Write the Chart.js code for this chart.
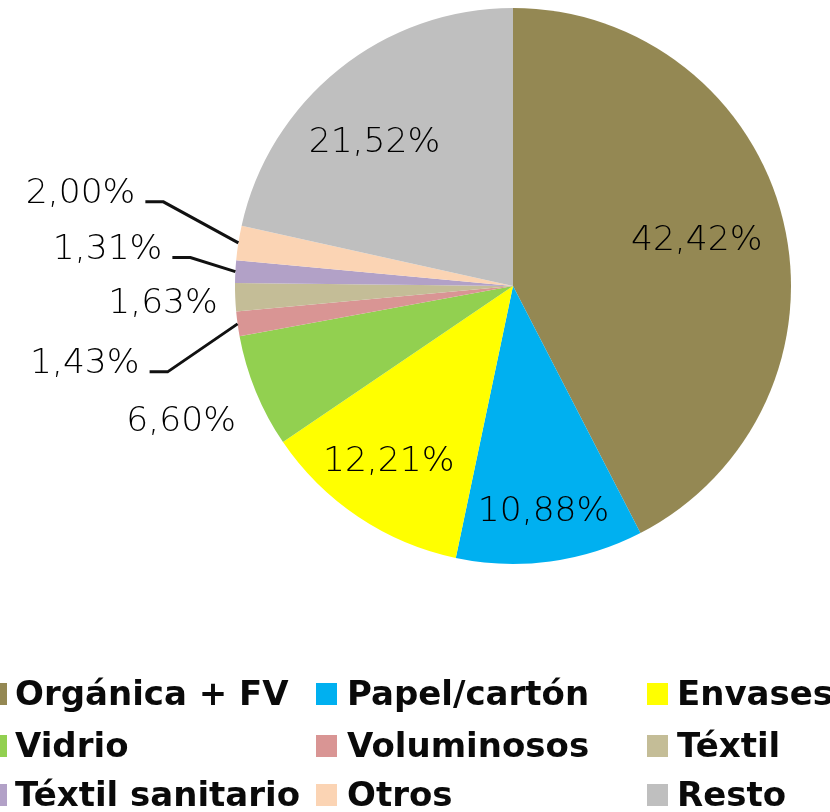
<!DOCTYPE html>
<html>
<head>
<meta charset="utf-8">
<script src="https://cdn.jsdelivr.net/npm/chart.js@4.4.1/dist/chart.umd.min.js"></script>
<style>
  html, body { margin: 0; padding: 0; background: #fff; overflow: hidden; }
  #wrap { position: relative; width: 830px; height: 812px; }
  #chartBox { position: absolute; left: 0; top: 0; width: 830px; height: 620px; }
  #legend { position: absolute; left: 0; top: 0; width: 830px; height: 812px; }
  .sw { position: absolute; width: 21px; height: 22px; }
  .txt { position: absolute; white-space: nowrap; font: 700 34px "DejaVu Sans", sans-serif; color: #0a0a0a; line-height: 40px; }
</style>
</head>
<body>
<div id="wrap">
  <div id="chartBox"><canvas id="chart"></canvas></div>
  <div id="legend"></div>
</div>
<script>
// categories, values and colours
const CATEGORIES = ['Orgánica + FV', 'Papel/cartón', 'Envases', 'Vidrio', 'Voluminosos', 'Téxtil', 'Téxtil sanitario', 'Otros', 'Resto'];
const VALUES = [42.42, 10.88, 12.21, 6.60, 1.43, 1.63, 1.31, 2.00, 21.52];
const COLORS = ['#948853', '#00b0f0', '#ffff00', '#92d050', '#d99594', '#c4bd97', '#b2a1c7', '#fbd4b4', '#bfbfbf'];

// where each value label goes: inside at a fraction of radius, outside, or with a leader line
const LABEL_PLACE = [
  { r: 0.68 },
  { r: 0.82 },
  { r: 0.77, dx: -5, dy: -2 },
  { r: 1.29 },
  { leader: [-70, 48] },
  { r: 1.26, dy: 4 },
  { leader: [-45, -14] },
  { leader: [-75, -41] },
  { r: 0.71, dx: -15, dy: 11 },
];

const fmt = v => v.toFixed(2).replace('.', ',') + '%';

const labelPlugin = {
  id: 'valueLabels',
  afterDatasetsDraw(chart) {
    const ctx = chart.ctx;
    const meta = chart.getDatasetMeta(0);
    ctx.save();
    ctx.font = '200 34.5px "DejaVu Sans", sans-serif';
    ctx.fillStyle = '#000';
    ctx.strokeStyle = '#111';
    ctx.lineWidth = 3;
    meta.data.forEach((arc, i) => {
      const p = arc.getProps(['x', 'y', 'startAngle', 'endAngle', 'outerRadius'], true);
      const mid = (p.startAngle + p.endAngle) / 2;
      const place = LABEL_PLACE[i];
      const text = fmt(VALUES[i]);
      if (place.leader) {
        const sx = p.x + Math.cos(mid) * p.outerRadius;
        const sy = p.y + Math.sin(mid) * p.outerRadius;
        const ex = sx + place.leader[0];
        const ey = sy + place.leader[1];
        const hx = ex - 18;
        ctx.beginPath();
        ctx.moveTo(sx, sy);
        ctx.lineTo(ex, ey);
        ctx.lineTo(hx, ey);
        ctx.stroke();
        ctx.textAlign = 'right';
        ctx.textBaseline = 'alphabetic';
        ctx.fillText(text, hx - 10, ey + 1);
      } else {
        const x = p.x + Math.cos(mid) * p.outerRadius * place.r + (place.dx || 0);
        const y = p.y + Math.sin(mid) * p.outerRadius * place.r + (place.dy || 0);
        ctx.textAlign = 'center';
        ctx.textBaseline = 'middle';
        ctx.fillText(text, x, y);
      }
    });
    ctx.restore();
  }
};

new Chart(document.getElementById('chart'), {
  type: 'pie',
  data: {
    labels: CATEGORIES,
    datasets: [{ data: VALUES, backgroundColor: COLORS, borderWidth: 0 }]
  },
  options: {
    responsive: true,
    maintainAspectRatio: false,
    animation: false,
    events: [],
    layout: { padding: { left: 196, right: 0, top: 8, bottom: 56 } },
    plugins: { legend: { display: false }, tooltip: { enabled: false } }
  },
  plugins: [labelPlugin]
});

// legend: three columns, rows filled in category order
const LEGEND_SWATCH_X = [-14, 316, 647];
const LEGEND_TEXT_X = [15, 347, 677];
const LEGEND_BASELINE = [705, 757, 806];
const legend = document.getElementById('legend');
CATEGORIES.forEach((name, i) => {
  const r = Math.floor(i / 3), c = i % 3;
  const sw = document.createElement('div');
  sw.className = 'sw';
  sw.style.background = COLORS[i];
  sw.style.left = LEGEND_SWATCH_X[c] + 'px';
  sw.style.top = (LEGEND_BASELINE[r] - 22) + 'px';
  legend.appendChild(sw);
  const t = document.createElement('div');
  t.className = 'txt';
  t.textContent = name;
  t.style.left = LEGEND_TEXT_X[c] + 'px';
  t.style.top = (LEGEND_BASELINE[r] - 32) + 'px';
  legend.appendChild(t);
});
</script>
</body>
</html>
